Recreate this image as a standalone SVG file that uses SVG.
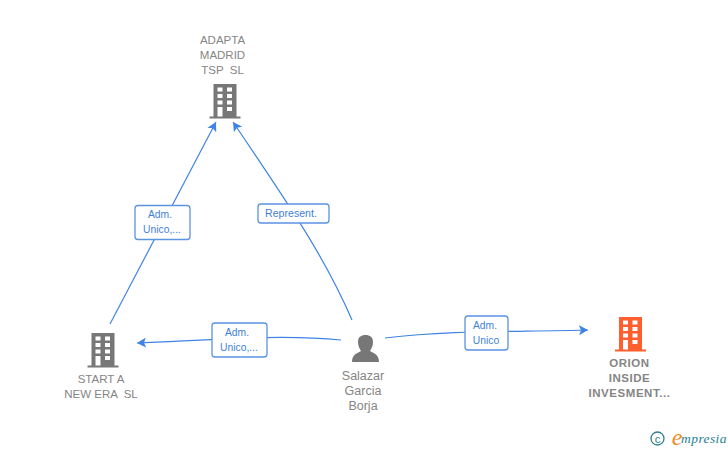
<svg xmlns="http://www.w3.org/2000/svg" width="728" height="450" viewBox="0 0 728 450">
<style>
text{font-family:"Liberation Sans",Arial,sans-serif;text-anchor:middle;white-space:pre}
.n{font-size:11.500px;fill:#858585}
.p{font-size:12.500px;fill:#858585}
.b{font-size:11.500px;fill:#858585;font-weight:700;letter-spacing:.55px}
.l{font-size:10.300px;fill:#3f7fdc}
.e{fill:none;stroke:#3f84e5;stroke-width:1.2}
.box{fill:#fff;stroke:#5b93e3;stroke-width:1.3}
.w{fill:#fff}
</style>
<defs>
<marker id="a" markerUnits="userSpaceOnUse" markerWidth="11" markerHeight="10" refX="9" refY="5" orient="auto"><path d="M0 0L9 5L0 10L2 5Z" fill="#3f84e5"/></marker>
<g id="bld">
<path d="M-11.500 0H11.500V32.500H15.500V34.500H-15.500V32.500H-11.500Z"/>
<g class="w"><rect x="-7.500" y="3.500" width="5" height="4"/><rect x="2" y="3.500" width="5" height="4"/><rect x="-7.500" y="10" width="5" height="4"/><rect x="2" y="10" width="5" height="4"/><rect x="-7.500" y="16.500" width="5" height="4"/><rect x="2" y="16.500" width="5" height="4"/><rect x="-7.500" y="23" width="5" height="9.500"/><rect x="2" y="23" width="5" height="4"/></g>
</g>
</defs>
<g id="connectors">
<path class="e" marker-end="url(#a)" d="M110 324L216 122"/>
<path class="e" marker-end="url(#a)" d="M352 320C326 260 296 215 233 122"/>
<path class="e" marker-end="url(#a)" d="M341 340C280 334 210 340 137 343"/>
<path class="e" marker-end="url(#a)" d="M385 338C450 330 510 332 588 330"/>
<rect class="box" x="135" y="205.500" width="55" height="34" rx="3"/>
<text class="l" x="160" y="218">Adm.</text><text class="l" x="162" y="233">Unico,...</text>
<rect class="box" x="258" y="204" width="71" height="19" rx="3"/>
<text class="l" x="291" y="217" style="font-size:10.600px">Represent.</text>
<rect class="box" x="212" y="323" width="55" height="34" rx="3"/>
<text class="l" x="237" y="336">Adm.</text><text class="l" x="239" y="351">Unico,...</text>
<rect class="box" x="465" y="316" width="43" height="34" rx="3"/>
<text class="l" x="485" y="329">Adm.</text><text class="l" x="486" y="344">Unico</text>
</g>
<g id="node-adapta">
<text class="n" x="222.500" y="44">ADAPTA</text><text class="n" x="222.500" y="59">MADRID</text><text class="n" x="222.500" y="74">TSP  SL</text>
<use href="#bld" x="225" y="84" fill="#777"/>
</g>
<g id="node-start">
<text class="n" x="101" y="383">START A</text><text class="n" x="101" y="398">NEW ERA  SL</text>
<use href="#bld" x="103" y="333" fill="#777"/>
</g>
<g id="node-salazar">
<path fill="#777" d="M352 362C352 354 358 353 361 351C359 348 358 345 358 342C358 337 361 335 365.500 335C370 335 373 337 373 342C373 345 372 348 370 351C373 353 379 354 379 362Z"/>
<text class="p" x="363" y="380">Salazar</text><text class="p" x="363" y="395">Garcia</text><text class="p" x="363" y="410">Borja</text>
</g>
<g id="node-orion">
<use href="#bld" x="630.500" y="317" fill="#ff5f2e"/>
<text class="b" x="629.500" y="367">ORION</text><text class="b" x="629.500" y="382">INSIDE</text><text class="b" x="629.500" y="397">INVESMENT...</text>
</g>
<g id="logo">
<circle cx="657.500" cy="438.500" r="6.500" fill="none" stroke="#2f7f8f" stroke-width="1.300"/>
<text x="657.500" y="442.500" style="font-size:11.500px;fill:#2f7f8f">c</text>
<text x="677" y="445" style="font-family:'Liberation Serif',serif;font-size:24px;font-style:italic;fill:#f08a24">e</text>
<text x="704" y="443" style="font-family:'Liberation Serif',serif;font-size:13.500px;font-style:italic;fill:#1f7f8f;letter-spacing:.4px">mpresia</text>
</g>
</svg>
